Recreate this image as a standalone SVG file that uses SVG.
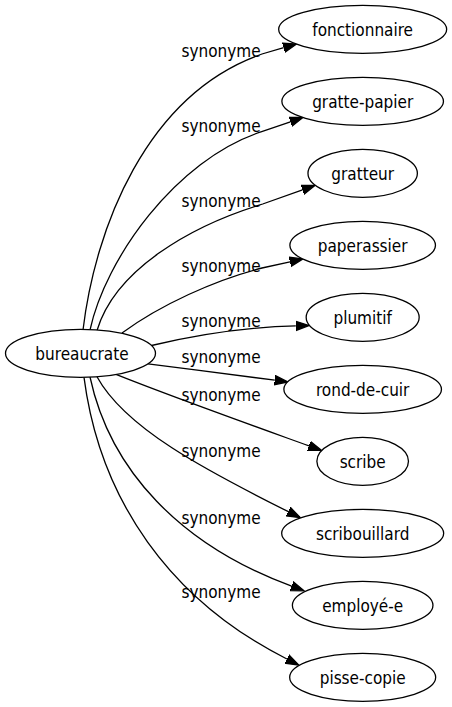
<svg xmlns="http://www.w3.org/2000/svg" width="452" height="707" viewBox="0 0 452 707">
<style>
  .node ellipse { fill: #fff; stroke: #000; stroke-width: 1.3; }
  .node text, .lbl { font-family: "DejaVu Sans Condensed", "DejaVu Sans", sans-serif; font-stretch: condensed; font-size: 17px; fill: #000; text-anchor: middle; }
  .edge { fill: none; stroke: #000; stroke-width: 1.3; marker-end: url(#arr); }
</style>
<defs>
  <marker id="arr" markerUnits="userSpaceOnUse" markerWidth="15" markerHeight="12" viewBox="0 -6 15 12" refX="0" refY="0" orient="auto">
    <path d="M0,-4.67 L13.3,0 L0,4.67 Z" fill="#000" stroke="#000" stroke-width="1.3"/>
  </marker>
</defs>
<rect width="452" height="707" fill="#fff"/>
<g id="edges">
  <path class="edge" d="M83,330 C95,230 145,95 262,54 L283.7,47.7"/>
  <path class="edge" d="M90,330 C105,260 175,160 261.7,131.7 L290.4,121.8"/>
  <path class="edge" d="M97,330.5 C115,270 190,226 262.7,204 L302.5,189.8"/>
  <path class="edge" d="M122,333 C160,305 215,280 262,268 L290,261.8"/>
  <path class="edge" d="M151.5,345.5 C200,334 250,327 295.8,325.9"/>
  <path class="edge" d="M148,363.8 C190,369 235,375 274.8,380.2"/>
  <path class="edge" d="M116,374.4 C170,396 240,421 309,445.9"/>
  <path class="edge" d="M97,376.7 C125,428 205,470 288.4,511.7"/>
  <path class="edge" d="M90,377 C110,470 180,545 291.6,586.2"/>
  <path class="edge" d="M84,377.3 C100,500 170,600 286.9,659"/>
  <text class="lbl" x="221" y="56.7">synonyme</text>
  <text class="lbl" x="221" y="131.7">synonyme</text>
  <text class="lbl" x="221" y="206.5">synonyme</text>
  <text class="lbl" x="221" y="271.7">synonyme</text>
  <text class="lbl" x="221" y="327">synonyme</text>
  <text class="lbl" x="221" y="363.3">synonyme</text>
  <text class="lbl" x="221" y="401">synonyme</text>
  <text class="lbl" x="221" y="456.7">synonyme</text>
  <text class="lbl" x="221" y="524">synonyme</text>
  <text class="lbl" x="221" y="598">synonyme</text>
</g>
<g id="bureaucrate" class="node"><ellipse cx="80.5" cy="353.3" rx="75" ry="24"/><text x="82" y="359.5">bureaucrate</text></g>
<g id="fonctionnaire" class="node"><ellipse cx="362.67" cy="29.3" rx="84" ry="24"/><text x="362.67" y="35.5">fonctionnaire</text></g>
<g id="gratte-papier" class="node"><ellipse cx="362.67" cy="101.3" rx="80.8" ry="24"/><text x="362.67" y="107.5">gratte-papier</text></g>
<g id="gratteur" class="node"><ellipse cx="362.67" cy="173.3" rx="54.7" ry="24"/><text x="362.67" y="179.5">gratteur</text></g>
<g id="paperassier" class="node"><ellipse cx="362.67" cy="245.3" rx="72.8" ry="24"/><text x="362.67" y="251.5">paperassier</text></g>
<g id="plumitif" class="node"><ellipse cx="362.67" cy="317.3" rx="56.5" ry="24"/><text x="362.67" y="323.5">plumitif</text></g>
<g id="rond-de-cuir" class="node"><ellipse cx="362.67" cy="389.3" rx="78.8" ry="24"/><text x="362.67" y="395.5">rond-de-cuir</text></g>
<g id="scribe" class="node"><ellipse cx="362.67" cy="461.3" rx="45.8" ry="24"/><text x="362.67" y="467.5">scribe</text></g>
<g id="scribouillard" class="node"><ellipse cx="362.67" cy="533.3" rx="81" ry="24"/><text x="362.67" y="539.5">scribouillard</text></g>
<g id="employe-e" class="node"><ellipse cx="362.67" cy="605.3" rx="70.3" ry="24"/><text x="362.67" y="611.5">employé-e</text></g>
<g id="pisse-copie" class="node"><ellipse cx="362.67" cy="677.3" rx="73" ry="24"/><text x="362.67" y="683.5">pisse-copie</text></g>
</svg>
